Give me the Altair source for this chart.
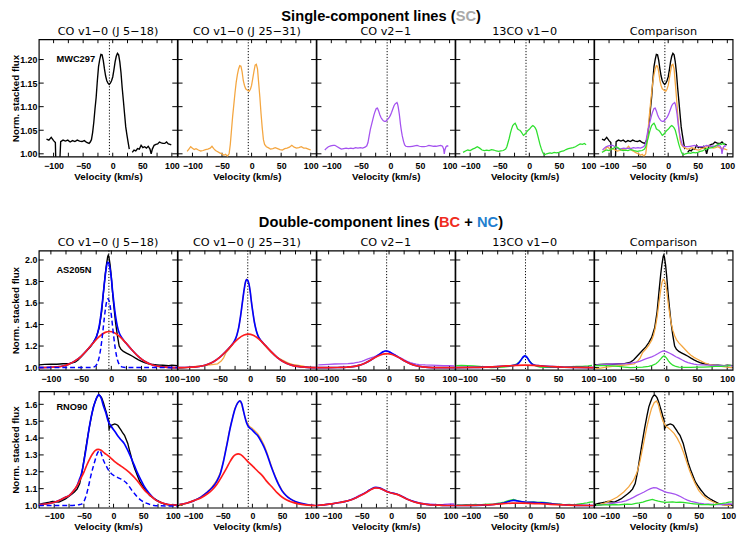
import altair as alt
import pandas as pd

# ---------------- Row 1: MWC297 (single-component lines) ----------------
R1_CO1A = [(-112,1.031),(-108,1.029),(-104,1.035),(-100,1.028),(-97,1.024),(-96,0.97),(-93,0.975),(-90,0.97),(-88,1.026),(-84,1.029),
           (-80,1.027),(-76,1.029),(-72,1.025),(-68,1.028),(-64,1.026),(-60,1.029),(-56,1.027),(-52,1.026),(-48,1.028),(-44,1.024),
           (-40,1.022),(-38,1.025),(-36,1.03),(-34,1.045),(-32,1.067),(-30,1.095),(-28,1.12),(-26,1.155),(-24,1.185),(-22,1.2),
           (-20,1.211),(-18,1.21),(-16,1.198),(-14,1.18),(-12,1.165),(-10,1.155),(-8,1.15),(-6,1.147),(-4,1.15),(-2,1.155),
           (0,1.163),(2,1.178),(4,1.195),(6,1.207),(8,1.213),(10,1.21),(12,1.195),(14,1.172),(16,1.14),(18,1.113),
           (20,1.085),(22,1.057),(24,1.04),(26,1.025),(28,1.01)]
R1_CO1B = [(33,1.003),(36,1.008),(39,1.006),(42,1.011),(45,1.01),(48,1.018),(51,1.013),(54,1.015),(57,1.012),(60,1.016),
           (63,1.01),(65,1.0),(67,1.01),(70,1.018),(73,1.02),(76,1.021),(79,1.025),(82,1.023),(85,1.022),(88,1.022),
           (91,1.025),(94,1.021),(97,1.02),(99,1.019)]
R1_CO2 = [(-109,1.005),(-106,1.01),(-103,1.015),(-100,1.012),(-97,1.009),(-94,1.011),(-90,1.008),(-86,1.006),(-82,1.007),(-78,1.009),
          (-74,1.01),(-70,1.012),(-67,1.016),(-64,1.011),(-61,1.007),(-58,1.005),(-54,1.002),(-50,1.0),(-47,0.997),(-44,0.999),
          (-41,0.995),(-38,1.0),(-36,1.02),(-34,1.05),(-32,1.08),(-30,1.105),(-28,1.13),(-26,1.152),(-24,1.168),(-22,1.18),
          (-20,1.187),(-18,1.186),(-16,1.174),(-14,1.155),(-12,1.145),(-10,1.138),(-8,1.136),(-6,1.134),(-4,1.133),(-2,1.137),
          (0,1.145),(2,1.16),(4,1.175),(6,1.188),(8,1.19),(10,1.18),(12,1.15),(14,1.12),(16,1.085),(18,1.055),
          (20,1.03),(22,1.02),(25,1.015),(28,1.013),(32,1.01),(36,1.011),(40,1.013),(44,1.011),(48,1.009),(52,1.008),
          (56,1.011),(60,1.012),(64,1.014),(68,1.018),(72,1.014),(76,1.012),(80,1.013),(84,1.015),(88,1.012),(92,1.012),
          (96,1.01),(100,1.008)]
R1_V21 = [(-111,1.008),(-108,1.012),(-105,1.015),(-101,1.017),(-97,1.018),(-94,1.018),(-90,1.015),(-86,1.012),(-83,1.01),(-79,1.011),
          (-75,1.012),(-71,1.011),(-67,1.012),(-63,1.011),(-59,1.013),(-55,1.012),(-51,1.013),(-47,1.012),(-43,1.014),(-40,1.017),
          (-38,1.024),(-36,1.038),(-34,1.052),(-32,1.062),(-30,1.072),(-28,1.082),(-26,1.09),(-24,1.096),(-22,1.097),(-20,1.091),
          (-18,1.083),(-16,1.077),(-14,1.073),(-12,1.07),(-10,1.069),(-8,1.069),(-6,1.071),(-4,1.074),(-2,1.077),(0,1.082),
          (2,1.088),(4,1.095),(6,1.102),(8,1.106),(10,1.108),(11,1.109),(12,1.106),(13,1.1),(14,1.092),(15,1.084),
          (16,1.073),(17,1.062),(18,1.053),(19,1.045),(20,1.038),(22,1.027),(24,1.019),(26,1.016),(29,1.015),(33,1.015),
          (37,1.016),(41,1.017),(45,1.018),(49,1.016),(53,1.015),(57,1.015),(61,1.016),(65,1.018),(69,1.017),(73,1.016),
          (77,1.016),(81,1.017),(85,1.018),(88,1.016),(90,1.01),(91,1.0),(92,1.008),(94,1.015),(96,1.017),(98,1.016)]
R1_13 = [(-112,1.003),(-108,1.006),(-104,1.008),(-100,1.007),(-96,1.01),(-92,1.012),(-88,1.015),(-84,1.012),(-80,1.008),(-76,1.007),
         (-72,1.008),(-68,1.007),(-64,1.009),(-60,1.008),(-56,1.006),(-52,1.005),(-48,1.006),(-44,1.007),(-40,1.01),
         (-38,1.015),(-36,1.024),(-34,1.033),(-32,1.044),(-30,1.053),(-28,1.06),(-26,1.063),(-24,1.065),(-22,1.06),(-20,1.053),
         (-18,1.051),(-16,1.05),(-14,1.047),(-12,1.043),(-10,1.039),(-8,1.041),(-6,1.044),(-4,1.047),(-2,1.05),(0,1.052),
         (2,1.055),(4,1.058),(6,1.06),(8,1.058),(10,1.055),(12,1.05),(14,1.04),(16,1.03),(18,1.02),(20,1.012),
         (22,1.005),(24,1.0),(26,0.998),(29,1.0),(32,1.001),(35,1.002),(38,1.001),(42,1.003),(46,1.002),(50,1.003),
         (54,1.005),(58,1.006),(62,1.009),(66,1.011),(70,1.012),(74,1.013),(78,1.015),(82,1.018),(86,1.021),(90,1.02),
         (93,1.022),(96,1.019)]

# ---------------- Row 2: AS205N (double-component lines) ----------------
R2_CO1 = [(-120,1.025),(-110,1.03),(-100,1.032),(-90,1.031),(-80,1.035),(-70,1.037),(-60,1.05),(-55,1.07),(-50,1.1),(-45,1.13),
          (-40,1.16),(-35,1.19),(-30,1.23),(-25,1.28),(-20,1.37),(-16,1.52),(-13,1.7),(-10,1.87),(-8,1.96),(-6,2.03),
          (-5,2.045),(-4,2.03),(-2,1.955),(0,1.84),(2,1.7),(4,1.58),(7,1.42),(10,1.3),(13,1.2),(16,1.17),
          (20,1.15),(25,1.135),(30,1.12),(35,1.105),(40,1.088),(45,1.072),(50,1.058),(55,1.046),(60,1.038),(65,1.032),
          (70,1.028),(75,1.025),(80,1.022),(85,1.021),(90,1.02),(95,1.018),(100,1.022),(105,1.02),(109,1.018)]
R2_CO1_TOT = [(-120,1.0),(-100,1.003),(-90,1.007),(-80,1.015),(-70,1.032),(-60,1.062),(-50,1.105),(-40,1.163),(-32,1.217),(-28,1.249),
              (-25,1.281),(-22,1.336),(-19,1.42),(-16,1.547),(-13,1.703),(-10,1.857),(-8,1.937),(-6,1.98),(-4,1.968),(-2,1.918),
              (0,1.834),(2,1.716),(4,1.614),(7,1.477),(10,1.383),(13,1.323),(16,1.289),(20,1.257),(25,1.223),(35,1.158),
              (45,1.101),(55,1.058),(65,1.03),(75,1.014),(85,1.006),(95,1.002),(109,1.0)]
R2_CO1_BC = [(-120,1.0),(-100,1.003),(-90,1.007),(-80,1.015),(-70,1.032),(-60,1.062),(-50,1.105),(-40,1.163),(-30,1.228),(-20,1.288),
             (-10,1.327),(-3,1.335),(5,1.324),(15,1.283),(25,1.223),(35,1.158),(45,1.101),(55,1.058),(65,1.03),(75,1.014),
             (85,1.006),(95,1.002),(109,1.0)]
R2_CO1_NC = [(-120,1.0),(-40,1.0),(-31.5,1.002),(-28.5,1.006),(-25.5,1.018),(-23.5,1.036),(-21.5,1.066),(-19.5,1.112),(-17.5,1.178),
             (-15.5,1.263),(-13.5,1.362),(-11.5,1.465),(-9.5,1.555),(-7.5,1.618),(-5.5,1.64),(-3.5,1.618),(-1.5,1.555),(0.5,1.465),
             (2.5,1.362),(4.5,1.263),(6.5,1.178),(8.5,1.112),(10.5,1.066),(12.5,1.036),(14.5,1.018),(17.5,1.006),(20.5,1.002),
             (40,1.0),(109,1.0)]
R2_CO2 = [(-118,0.99),(-110,0.995),(-100,1.004),(-90,1.01),(-81,1.015),(-70,1.022),(-60,1.03),(-54,1.035),(-48,1.06),(-44,1.09),
          (-40,1.14),(-35,1.17),(-30,1.205),(-25,1.255),(-22,1.3),(-19,1.37),(-16,1.47),(-13,1.6),(-10,1.725),(-8,1.79),
          (-6,1.82),(-4,1.81),(-2,1.775),(0,1.71),(2,1.615),(4,1.53),(7,1.42),(10,1.345),(13,1.295),(16,1.26),
          (20,1.23),(25,1.2),(30,1.17),(35,1.14),(40,1.115),(45,1.095),(50,1.08),(55,1.065),(60,1.05),(65,1.038),
          (70,1.03),(80,1.02),(90,1.01),(100,1.005),(108,1.0)]
R2_CO2_TOT = [(-120,1.0),(-100,1.003),(-90,1.006),(-80,1.014),(-70,1.03),(-60,1.057),(-50,1.097),(-40,1.151),(-32,1.2),(-28,1.229),
              (-25,1.257),(-22,1.303),(-19,1.371),(-16,1.475),(-13,1.601),(-10,1.724),(-8,1.789),(-6,1.817),(-4,1.809),(-2,1.775),
              (0,1.709),(2,1.613),(4,1.531),(7,1.421),(10,1.344),(13,1.295),(16,1.266),(20,1.237),(25,1.206),(35,1.146),
              (45,1.093),(55,1.054),(65,1.028),(75,1.013),(85,1.006),(95,1.002),(109,1.0)]
R2_CO2_BC = [(-120,1.0),(-100,1.003),(-90,1.006),(-80,1.014),(-70,1.03),(-60,1.057),(-50,1.097),(-40,1.151),(-30,1.211),(-20,1.266),
             (-10,1.302),(-3,1.31),(5,1.3),(15,1.262),(25,1.206),(35,1.146),(45,1.093),(55,1.054),(65,1.028),(75,1.013),
             (85,1.006),(95,1.002),(109,1.0)]
R2_V21 = [(-117,1.025),(-108,1.028),(-100,1.03),(-90,1.033),(-80,1.035),(-68,1.036),(-60,1.04),(-55,1.045),(-50,1.05),(-45,1.058),
          (-41,1.066),(-35,1.08),(-30,1.09),(-25,1.1),(-20,1.112),(-15,1.128),(-10,1.145),(-6,1.155),(-3,1.153),(0,1.146),
          (5,1.133),(10,1.118),(15,1.1),(20,1.088),(25,1.072),(30,1.058),(35,1.046),(40,1.038),(45,1.032),(50,1.028),
          (60,1.024),(70,1.022),(80,1.02),(90,1.019),(100,1.017),(108,1.016)]
R2_V21_TOT = [(-120,1.0),(-100,1.0),(-80,1.001),(-70,1.003),(-60,1.008),(-50,1.02),(-40,1.041),(-30,1.071),(-22,1.099),(-18,1.114),
              (-14,1.131),(-10,1.146),(-6,1.154),(-2,1.152),(2,1.142),(6,1.127),(10,1.114),(15,1.097),(25,1.064),(35,1.036),
              (45,1.017),(55,1.007),(65,1.002),(80,1.0),(109,1.0)]
R2_V21_BC = [(-120,1.0),(-100,1.0),(-80,1.001),(-70,1.003),(-60,1.008),(-50,1.02),(-40,1.041),(-30,1.071),(-20,1.103),(-10,1.125),
             (-3.5,1.13),(5,1.122),(15,1.097),(25,1.064),(35,1.036),(45,1.017),(55,1.007),(65,1.002),(80,1.0),(109,1.0)]
R2_13 = [(-119,1.018),(-110,1.02),(-100,1.017),(-90,1.015),(-80,1.01),(-70,1.005),(-60,1.0),(-50,1.002),(-40,1.004),(-30,1.01),
         (-24,1.02),(-18,1.035),(-14,1.055),(-10,1.08),(-7,1.1),(-5,1.108),(-3,1.104),(0,1.085),(3,1.06),(6,1.04),
         (10,1.022),(15,1.01),(20,1.004),(30,1.002),(40,1.001),(50,1.003),(60,1.005),(70,1.007),(80,1.01),(90,1.012),
         (100,1.015),(106,1.02)]
R2_13_TOT = [(-120,1.0),(-90,1.001),(-70,1.004),(-50,1.009),(-35,1.015),(-26,1.019),(-22,1.022),(-18,1.029),(-15,1.043),(-12,1.065),
             (-9,1.091),(-7,1.103),(-5,1.108),(-3,1.103),(-1,1.091),(2,1.064),(5,1.042),(8,1.028),(12,1.021),(20,1.017),
             (25,1.014),(40,1.008),(60,1.003),(80,1.001),(109,1.0)]
R2_13_BC = [(-120,1.0),(-90,1.001),(-70,1.004),(-50,1.009),(-35,1.015),(-20,1.021),(-5,1.023),(10,1.02),(25,1.014),(40,1.008),
            (60,1.003),(80,1.001),(109,1.0)]

# ---------------- Row 3: RNO90 (double-component lines) ----------------
R3_CO1 = [(-126,1.005),(-119,1.012),(-114,1.016),(-108,1.02),(-103,1.024),(-97,1.022),(-92,1.02),(-86,1.03),(-81,1.039),(-75,1.055),
          (-70,1.068),(-66,1.08),(-61.5,1.097),(-57,1.13),(-53,1.2),(-49,1.29),(-45,1.377),(-41,1.46),(-37,1.535),(-34,1.585),
          (-31,1.615),(-28.4,1.639),(-26,1.652),(-24,1.655),(-22,1.648),(-20,1.638),(-17,1.61),(-14.6,1.58),(-12,1.55),(-10,1.523),
          (-8.5,1.51),(-7.5,1.455),(-6,1.465),(-4.7,1.474),(-2,1.478),(2,1.484),(5,1.48),(7.4,1.474),(10,1.46),(12.9,1.445),
          (15.5,1.43),(18.5,1.416),(21,1.395),(24,1.368),(26.7,1.33),(29,1.3),(32.2,1.255),(36,1.215),(40.5,1.175),(44.5,1.14),
          (48.8,1.117),(53,1.095),(57,1.078),(61,1.06),(65.3,1.049),(69,1.04),(73.6,1.03),(79,1.02),(84.6,1.01),(90,1.006),
          (95.7,1.004),(101,1.004),(106,1.005)]
R3_CO1_TOT = [(-126,1.004),(-115,1.009),(-103,1.016),(-92,1.03),(-81,1.049),(-75,1.059),(-68,1.085),(-61.5,1.117),(-58,1.15),(-54,1.19),
              (-50.5,1.25),(-46,1.345),(-42,1.44),(-38,1.52),(-34,1.58),(-31,1.615),(-28,1.642),(-25.5,1.656),(-23,1.652),(-20,1.628),
              (-17.4,1.595),(-13,1.55),(-9,1.5),(-4,1.47),(2,1.44),(8,1.409),(13,1.388),(18,1.367),(21,1.348),(25,1.32),
              (29.5,1.284),(35,1.238),(40.5,1.192),(46,1.152),(51.5,1.115),(60,1.073),(68,1.043),(78,1.02),(85,1.012),(92,1.006),
              (100,1.003),(107,1.002)]
R3_CO1_BC = [(-126,1.004),(-115,1.009),(-103,1.016),(-92,1.03),(-81,1.049),(-75,1.059),(-68,1.085),(-61.5,1.117),(-56,1.155),(-50.5,1.194),
             (-45,1.24),(-39.5,1.281),(-35,1.308),(-31,1.326),(-26,1.333),(-21,1.328),(-15,1.31),(-10,1.297),(-5,1.283),(2,1.26),
             (10,1.24),(18,1.22),(24,1.204),(30,1.185),(36,1.163),(42,1.138),(48,1.11),(55,1.08),(62,1.059),(70,1.035),
             (78,1.02),(85,1.012),(92,1.006),(100,1.003),(107,1.002)]
R3_CO1_NC = [(-126,1.0),(-100,1.0),(-80,1.0),(-65,1.002),(-58,1.005),(-54,1.008),(-50.5,1.02),(-46,1.06),(-42,1.117),(-38,1.18),
             (-34,1.233),(-31,1.27),(-28.4,1.3),(-25.5,1.32),(-23,1.326),(-20,1.3),(-17.4,1.271),(-13,1.24),(-9,1.213),(-4,1.19),
             (2,1.175),(8,1.164),(13,1.156),(17,1.148),(21,1.136),(25,1.12),(29.5,1.097),(35,1.072),(40.5,1.049),(46,1.032),
             (51.5,1.02),(60,1.008),(68,1.0),(80,0.998),(107,0.996)]
R3_CO2 = [(-123,1.0),(-110,1.012),(-98.4,1.03),(-87,1.05),(-76.3,1.08),(-68,1.11),(-59.8,1.15),(-54,1.195),(-48.8,1.265),(-43,1.365),
          (-37.7,1.46),(-33,1.53),(-29.5,1.575),(-25,1.61),(-21.2,1.62),(-18,1.6),(-15.7,1.565),(-13,1.53),(-10.2,1.5),(-7,1.48),
          (-4.7,1.468),(-1,1.46),(3,1.447),(8.5,1.428),(14,1.398),(19.5,1.36),(25,1.31),(30.6,1.25),(35,1.205),(38.9,1.17),
          (44,1.13),(50,1.09),(57,1.06),(63.8,1.04),(72,1.025),(80.3,1.012),(92,1.004),(105,1.0)]
R3_CO2_TOT = [(-123,1.006),(-110,1.015),(-98.4,1.029),(-87,1.05),(-76.3,1.078),(-68,1.105),(-59.8,1.145),(-54,1.19),(-48.8,1.261),(-43,1.36),
              (-37.7,1.455),(-33,1.525),(-29.5,1.571),(-25,1.607),(-21.2,1.62),(-18,1.605),(-15.7,1.571),(-13,1.53),(-10.2,1.494),(-7,1.47),
              (-4.7,1.46),(-1,1.45),(3,1.435),(8.5,1.416),(14,1.385),(19.5,1.348),(25,1.3),(30.6,1.242),(35,1.2),(38.9,1.165),
              (44,1.125),(50,1.087),(57,1.058),(63.8,1.039),(72,1.024),(80.3,1.014),(92,1.006),(105,1.0)]
R3_CO2_BC = [(-123,1.006),(-110,1.015),(-98.4,1.029),(-87,1.045),(-76.3,1.068),(-68,1.092),(-59.8,1.126),(-52,1.17),(-43.3,1.223),(-37,1.265),
             (-32.3,1.29),(-28,1.302),(-24,1.306),(-20,1.302),(-15.7,1.29),(-8,1.262),(0.8,1.232),(9,1.203),(17.4,1.174),(25,1.14),
             (33.9,1.107),(42,1.075),(50.4,1.049),(58,1.032),(67,1.02),(78,1.01),(89,1.004),(100,1.001),(107,1.0)]
R3_V21 = [(-123,1.0),(-115,1.004),(-108,1.007),(-100,1.01),(-93,1.014),(-86,1.018),(-80,1.022),(-73,1.028),(-66,1.038),(-60,1.048),
          (-54,1.06),(-48,1.07),(-42,1.08),(-36,1.092),(-31,1.1),(-26,1.106),(-21,1.104),(-16,1.096),(-11,1.088),(-6.9,1.081),
          (-2,1.077),(3,1.073),(9.7,1.068),(15,1.06),(20,1.052),(26,1.04),(31,1.032),(37,1.025),(43,1.02),(50,1.014),
          (59,1.01),(67,1.008),(75,1.006),(81,1.005),(88,1.006),(95,1.008),(101,1.01),(106,1.009)]
R3_V21_TOT = [(-126,1.0),(-115,1.004),(-100,1.01),(-87,1.018),(-73,1.028),(-60,1.045),(-50,1.063),(-40,1.084),(-33,1.1),(-26,1.108),
              (-20,1.105),(-13,1.094),(-7,1.083),(0,1.075),(9.7,1.067),(18,1.054),(26,1.039),(34,1.028),(43,1.018),(51,1.011),
              (59,1.007),(70,1.003),(81,1.002),(95,1.0),(107,1.0)]
R3_V21_BC = [(-126,1.0),(-115,1.004),(-100,1.01),(-87,1.018),(-73,1.028),(-60,1.045),(-50,1.062),(-40,1.082),(-33,1.097),(-26,1.105),
             (-20,1.102),(-13,1.092),(-7,1.082),(0,1.074),(9.7,1.066),(18,1.053),(26,1.038),(34,1.027),(43,1.017),(51,1.011),
             (59,1.007),(70,1.003),(81,1.002),(95,1.0),(107,1.0)]
R3_13 = [(-123,1.003),(-115,1.002),(-108,1.005),(-100,1.003),(-92,1.006),(-85,1.004),(-78,1.006),(-70,1.008),(-63,1.007),(-56,1.012),
         (-50,1.015),(-44,1.02),(-38,1.027),(-33,1.032),(-28,1.036),(-23,1.03),(-18,1.026),(-12,1.022),(-6,1.018),(0,1.02),
         (6,1.022),(12,1.019),(18,1.02),(24,1.018),(30,1.015),(36,1.012),(42,1.01),(48,1.008),(54,1.006),(60,1.005),
         (66,1.006),(72,1.004),(78,1.006),(84,1.01),(90,1.012),(96,1.016),(101,1.02),(106,1.021)]
R3_13_TOT = [(-126,1.0),(-90,1.001),(-70,1.004),(-55,1.009),(-45,1.015),(-38,1.022),(-32,1.028),(-28,1.03),(-24,1.029),(-18,1.025),
             (-10,1.021),(0,1.019),(10,1.018),(20,1.016),(30,1.013),(40,1.009),(50,1.006),(60,1.004),(75,1.001),(107,1.0)]
R3_13_BC = [(-126,1.0),(-100,1.001),(-80,1.003),(-60,1.007),(-45,1.011),(-30,1.014),(-15,1.014),(0,1.013),(15,1.011),(30,1.008),
            (45,1.005),(60,1.003),(80,1.001),(107,1.0)]

# ---------------- layout / labels ----------------
PANEL_TITLES = ["CO v1−0 (J 5−18)", "CO v1−0 (J 25−31)", "CO v2−1", "13CO v1−0", "Comparison"]
STARS = ["MWC297", "AS205N", "RNO90"]
STAR_Y = [20, 20, 16]
XDOM = [[-125, 109], [-120, 109], [-126, 107.3]]
YDOM = [[0.994, 1.243], [0.979, 2.088], [0.987, 1.677]]
YTICKS = [[1.00, 1.05, 1.10, 1.15, 1.20], [1.0, 1.2, 1.4, 1.6, 1.8, 2.0], [1.0, 1.1, 1.2, 1.3, 1.4, 1.5, 1.6]]
YFMT = [".2f", ".1f", ".1f"]
XLABELS = [-100, -50, 0, 50, 100]
XTICKS = [-100, -75, -50, -25, 0, 25, 50, 75, 100]
VSYS = [-5.6, -4, -7]
ROW_H = [120, 122, 119]
LABEL_PAD = [5, 5, 4]
PW = 141.5
TITLE_Y = -4.5

SERIES = {
    "r1_co1a": R1_CO1A, "r1_co1b": R1_CO1B, "r1_co2": R1_CO2, "r1_v21": R1_V21, "r1_13": R1_13,
    "r2_co1": R2_CO1, "r2_co1_tot": R2_CO1_TOT, "r2_co1_bc": R2_CO1_BC, "r2_co1_nc": R2_CO1_NC,
    "r2_co2": R2_CO2, "r2_co2_tot": R2_CO2_TOT, "r2_co2_bc": R2_CO2_BC,
    "r2_v21": R2_V21, "r2_v21_tot": R2_V21_TOT, "r2_v21_bc": R2_V21_BC,
    "r2_13": R2_13, "r2_13_tot": R2_13_TOT, "r2_13_bc": R2_13_BC,
    "r3_co1": R3_CO1, "r3_co1_tot": R3_CO1_TOT, "r3_co1_bc": R3_CO1_BC, "r3_co1_nc": R3_CO1_NC,
    "r3_co2": R3_CO2, "r3_co2_tot": R3_CO2_TOT, "r3_co2_bc": R3_CO2_BC,
    "r3_v21": R3_V21, "r3_v21_tot": R3_V21_TOT, "r3_v21_bc": R3_V21_BC,
    "r3_13": R3_13, "r3_13_tot": R3_13_TOT, "r3_13_bc": R3_13_BC,
}
DF = pd.DataFrame([{"key": k, "v": v, "f": f} for k, pts in SERIES.items() for v, f in pts])
ONE = pd.DataFrame({"d": [0]})

STYLE = {
    "k": dict(color="#000000", strokeWidth=1.4, interpolate="linear"),
    "o": dict(color="#f4a640", strokeWidth=1.3, interpolate="linear"),
    "p": dict(color="#a452ef", strokeWidth=1.3, interpolate="linear"),
    "g": dict(color="#2ee02e", strokeWidth=1.3, interpolate="linear"),
    "b": dict(color="#0000ff", strokeWidth=1.7, interpolate="monotone"),
    "r": dict(color="#ff1c1c", strokeWidth=1.7, interpolate="monotone"),
    "d": dict(color="#0000ff", strokeWidth=1.5, interpolate="monotone", strokeDash=[5, 3]),
}

PANELS = [
    [[("r1_co1a", "k"), ("r1_co1b", "k")], [("r1_co2", "o")], [("r1_v21", "p")], [("r1_13", "g")],
     [("r1_co1a", "k"), ("r1_co1b", "k"), ("r1_co2", "o"), ("r1_v21", "p"), ("r1_13", "g")]],
    [[("r2_co1", "k"), ("r2_co1_tot", "b"), ("r2_co1_bc", "r"), ("r2_co1_nc", "d")],
     [("r2_co2", "o"), ("r2_co2_tot", "b"), ("r2_co2_bc", "r")],
     [("r2_v21", "p"), ("r2_v21_tot", "b"), ("r2_v21_bc", "r")],
     [("r2_13", "g"), ("r2_13_tot", "b"), ("r2_13_bc", "r")],
     [("r2_co1", "k"), ("r2_co2", "o"), ("r2_v21", "p"), ("r2_13", "g")]],
    [[("r3_co1", "k"), ("r3_co1_tot", "b"), ("r3_co1_bc", "r"), ("r3_co1_nc", "d")],
     [("r3_co2", "o"), ("r3_co2_tot", "b"), ("r3_co2_bc", "r")],
     [("r3_v21", "p"), ("r3_v21_tot", "b"), ("r3_v21_bc", "r")],
     [("r3_13", "g"), ("r3_13_tot", "b"), ("r3_13_bc", "r")],
     [("r3_co1", "k"), ("r3_co2", "o"), ("r3_v21", "p"), ("r3_13", "g")]],
]

# big titles: (text, colour, x offset from first plot's left edge)
BIG1 = [("Single-component lines (", "#000000", 248), ("SC", "#a9a9a9", 426.3), (")", "#000000", 447.1)]
BIG2 = [("Double-component lines (", "#000000", 225), ("BC", "#ef2b20", 409.2), ("+", "#000000", 435.1),
        ("NC", "#1f7fcf", 448), (")", "#000000", 469.7)]
BIG1_Y = -31
BIG2_Y = 179.5
SPACING = 5


def text_layer(txt, color, x, y, size, align="left", baseline="top", font="Liberation Sans", weight="bold"):
    return alt.Chart(ONE).mark_text(text=txt, color=color, align=align, baseline=baseline,
                                    font=font, fontSize=size, fontWeight=weight).encode(
        x=alt.value(x), y=alt.value(y))


def panel(r, c):
    H = ROW_H[r]
    xs = alt.Scale(domain=XDOM[r], nice=False, zero=False)
    ys = alt.Scale(domain=YDOM[r], nice=False, zero=False)
    xaxis = alt.Axis(values=XLABELS, format="d", ticks=False, tickSize=0, domain=False, grid=False,
                     labelPadding=LABEL_PAD[r], labelOverlap=False, labelFlush=False,
                     title=("Velocity (km/s)" if r != 1 else None), titlePadding=1)
    X = alt.X("v:Q", scale=xs, axis=xaxis)
    if c == 0:
        yaxis = alt.Axis(values=YTICKS[r], format=YFMT[r], ticks=False, tickSize=0, domain=False, grid=False,
                         labelPadding=2, labelOverlap=False, labelFlush=False, title="Norm. stacked flux",
                         titlePadding=0, minExtent=19, maxExtent=19)
        Y = alt.Y("f:Q", scale=ys, axis=yaxis)
    else:
        Y = alt.Y("f:Q", scale=ys, axis=None)

    layers = []
    # tick marks pointing inwards on all four sides
    tx = pd.DataFrame({"v": XTICKS})
    ty = pd.DataFrame({"f": YTICKS[r]})
    rule = dict(color="black", strokeWidth=1)
    layers.append(alt.Chart(tx).mark_rule(**rule).encode(x=X, y=alt.value(0), y2=alt.value(4)))
    layers.append(alt.Chart(tx).mark_rule(**rule).encode(x=X, y=alt.value(H), y2=alt.value(H - 4)))
    layers.append(alt.Chart(ty).mark_rule(**rule).encode(y=Y, x=alt.value(0), x2=alt.value(5)))
    layers.append(alt.Chart(ty).mark_rule(**rule).encode(y=Y, x=alt.value(PW - 5), x2=alt.value(PW)))
    # dotted systemic velocity
    layers.append(alt.Chart(pd.DataFrame({"v": [VSYS[r]]})).mark_rule(
        color="black", strokeWidth=1, strokeDash=[1.2, 1.8]).encode(x=X))
    # spectra and fits
    for key, st in PANELS[r][c]:
        s = STYLE[st]
        kw = dict(clip=True, color=s["color"], strokeWidth=s["strokeWidth"], interpolate=s["interpolate"])
        if "strokeDash" in s:
            kw["strokeDash"] = s["strokeDash"]
        layers.append(alt.Chart(DF).transform_filter(alt.datum.key == key).mark_line(**kw).encode(x=X, y=Y))
    if c == 0:
        layers.append(text_layer(STARS[r], "#000000", 18, STAR_Y[r], 9.5, baseline="middle"))
    if r < 2:
        layers.append(text_layer(PANEL_TITLES[c], "#000000", PW / 2, TITLE_Y, 11.5, align="center",
                                 baseline="alphabetic", font="DejaVu Sans", weight="normal"))
    if r == 0 and c == 0:
        for txt, col, x in BIG1:
            layers.append(text_layer(txt, col, x, BIG1_Y, 15))
        for txt, col, x in BIG2:
            layers.append(text_layer(txt, col, x, BIG2_Y, 15))
    return alt.layer(*layers).properties(width=PW, height=H)


rows = [alt.hconcat(*[panel(r, c) for c in range(5)], spacing=0, bounds="flush") for r in range(3)]

chart = alt.vconcat(*rows, spacing=SPACING).properties(
    padding={"left": 1.5, "top": -6, "right": 2, "bottom": 0}
).configure_view(
    stroke="black", strokeWidth=1.2
).configure_axis(
    labelFont="Liberation Sans", labelFontSize=9, labelFontWeight="bold", labelColor="black",
    titleFont="Liberation Sans", titleFontSize=10, titleFontWeight="bold", titleColor="black"
)

chart.save("out.html", embed_options={"renderer": "svg", "actions": False})
